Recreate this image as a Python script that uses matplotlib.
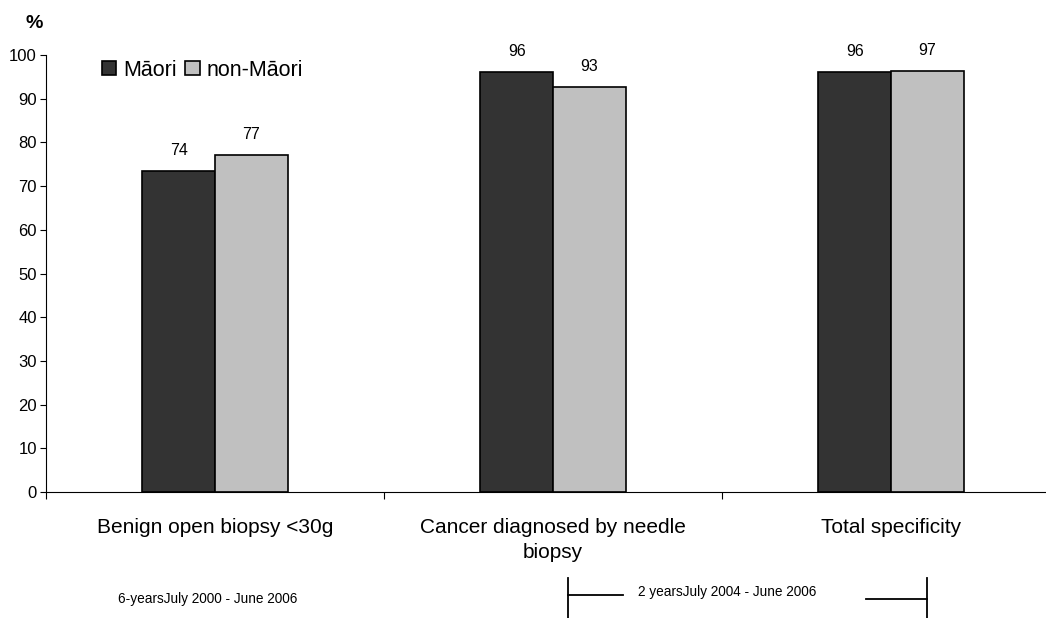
import matplotlib
matplotlib.use("Agg")
import matplotlib.pyplot as plt
from matplotlib.patches import Patch
from matplotlib.lines import Line2D

categories = ["Benign open biopsy <30g", "Cancer diagnosed by needle\nbiopsy", "Total specificity"]
maori = [73.5, 96.0, 96.0]
non_maori = [77.2, 92.7, 96.4]
maori_labels = ["74", "96", "96"]
non_maori_labels = ["77", "93", "97"]
series_names = ["Māori", "non-Māori"]
yticks = [0, 10, 20, 30, 40, 50, 60, 70, 80, 90, 100]

plt.rcParams['font.family'] = ['Liberation Sans', 'DejaVu Sans']

W, H = 1046, 618
def fy(p):
    return 1 - p / H
def fx(p):
    return p / W

fig = plt.figure(figsize=(W / 100, H / 100), dpi=100)
left, right, bottom, top = 46, 1060, 492, 55
ax = fig.add_axes([left / W, 1 - bottom / H, (right - left) / W, (bottom - top) / H])

bw = 0.215
x = list(range(len(categories)))
c1, c2 = "#333333", "#c0c0c0"
b1 = ax.bar([i - bw / 2 for i in x], maori, width=bw, color=c1, edgecolor="black", linewidth=1.2)
b2 = ax.bar([i + bw / 2 for i in x], non_maori, width=bw, color=c2, edgecolor="black", linewidth=1.2)

for rect, lab in zip(b1, maori_labels):
    ax.text(rect.get_x() + rect.get_width() / 2, rect.get_height() + 3.0, lab,
            ha="center", va="bottom", fontsize=11.5)
for rect, lab in zip(b2, non_maori_labels):
    ax.text(rect.get_x() + rect.get_width() / 2, rect.get_height() + 3.0, lab,
            ha="center", va="bottom", fontsize=11.5)

ax.set_xlim(-0.5, len(categories) - 0.5)
ax.set_ylim(0, 100)
ax.set_yticks(yticks)
ax.set_yticklabels([str(v) for v in yticks], fontsize=12)
ax.tick_params(axis="y", direction="out", length=4, width=0.8, pad=2.5)

ax.set_xticks([i - 0.5 for i in range(len(categories) + 1)])
ax.set_xticklabels([])
ax.tick_params(axis="x", direction="out", length=5, width=0.8)
line_step = 5.8  # data units between label lines
for i, cat in enumerate(categories):
    for j, line in enumerate(cat.split("\n")):
        ax.text(i, -9.4 - j * line_step, line, ha="center", va="baseline", fontsize=15,
                clip_on=False)

for s in ["top", "right"]:
    ax.spines[s].set_visible(False)
ax.spines["left"].set_linewidth(0.8)
ax.spines["bottom"].set_linewidth(0.8)

handles = [Patch(facecolor=c1, edgecolor="black", linewidth=1.2),
           Patch(facecolor=c2, edgecolor="black", linewidth=1.2)]
fig.legend(handles, series_names, loc="center left", bbox_to_anchor=(fx(102), fy(70)),
           bbox_transform=fig.transFigure,
           ncol=2, frameon=False, fontsize=15.5, handlelength=0.66, handleheight=0.66,
           handletextpad=0.32, columnspacing=0.4, borderaxespad=0, borderpad=0)

fig.text(fx(34), fy(24), "%", fontsize=14, fontweight="bold", ha="center", va="center")

fig.text(fx(208), fy(599), "6-yearsJuly 2000 - June 2006", fontsize=9.8, ha="center", va="center")
fig.text(fx(727), fy(592), "2 yearsJuly 2004 - June 2006", fontsize=9.8, ha="center", va="center")

fig.add_artist(Line2D([fx(568), fx(568)], [fy(578), fy(618)], color="black", lw=1.3))
fig.add_artist(Line2D([fx(568), fx(623)], [fy(595), fy(595)], color="black", lw=1.3))
fig.add_artist(Line2D([fx(866), fx(927)], [fy(599), fy(599)], color="black", lw=1.3))
fig.add_artist(Line2D([fx(927), fx(927)], [fy(578), fy(618)], color="black", lw=1.3))

fig.savefig("out.png", dpi=100)
